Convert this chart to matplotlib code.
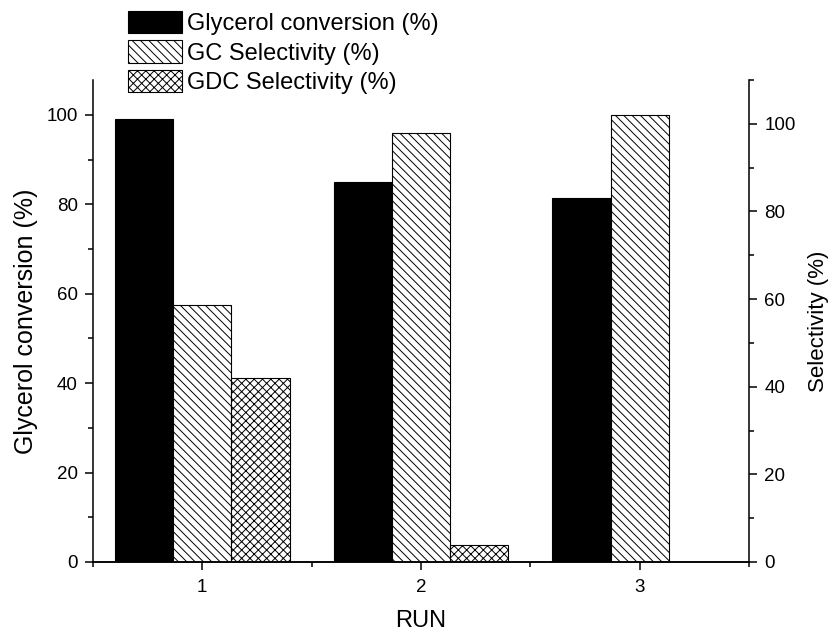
import numpy as np
import matplotlib
matplotlib.use("Agg")
import matplotlib.pyplot as plt
from matplotlib.ticker import MultipleLocator

plt.rcParams['font.family'] = ['Liberation Sans', 'DejaVu Sans']
plt.rcParams['hatch.linewidth'] = 0.7

runs = [1, 2, 3]
run_labels = ["1", "2", "3"]
glycerol_conversion = [99.0, 84.9, 81.4]
gc_selectivity = [57.5, 96.0, 100.0]
gdc_selectivity = [41.1, 3.8, 0.0]

bar_width = 0.266

fig = plt.figure(figsize=(8.33, 6.33), dpi=100)
ax = fig.add_axes([0.1116, 0.1122, 0.7876, 0.7614])
ax2 = ax.twinx()

x = np.array(runs, dtype=float)
b1 = ax.bar(x - bar_width, glycerol_conversion, bar_width, color="black",
            edgecolor="black", linewidth=0.8, label="Glycerol conversion (%)")
b2 = ax.bar(x, gc_selectivity, bar_width, color="white", edgecolor="black",
            hatch="\\\\\\\\", linewidth=0.8, label="GC Selectivity (%)")
b3 = ax.bar(x + bar_width, gdc_selectivity, bar_width, color="white", edgecolor="black",
            hatch="xxxx", linewidth=0.8, label="GDC Selectivity (%)")

ax.set_xlim(0.5, 3.5)
ax.set_ylim(0, 107.8)
ax2.set_ylim(0, 110)

ax.set_xticks(runs)
ax.set_xticklabels(run_labels)
ax.xaxis.set_minor_locator(MultipleLocator(0.5))
ax.yaxis.set_major_locator(MultipleLocator(20))
ax.yaxis.set_minor_locator(MultipleLocator(10))
ax2.yaxis.set_major_locator(MultipleLocator(20))
ax2.yaxis.set_minor_locator(MultipleLocator(10))

for a in (ax, ax2):
    a.spines['top'].set_visible(False)
    for s in a.spines.values():
        s.set_linewidth(1.1)
    a.tick_params(which='major', direction='out', length=6, width=1.1, labelsize=13.5, pad=5)
    a.tick_params(which='minor', direction='out', length=3.5, width=1.1)
ax.tick_params(axis='x', which='major', pad=6)
ax2.spines['left'].set_visible(False)
ax.spines['right'].set_visible(False)

ax.set_xlabel("RUN", fontsize=17, labelpad=10)
ax.set_ylabel("Glycerol conversion (%)", fontsize=18, labelpad=6)
ax2.set_ylabel("Selectivity (%)", fontsize=16, labelpad=9)

fig.legend(handles=[b1, b2, b3], loc="upper left", bbox_to_anchor=(0.1537, 0.9826),
           frameon=False, fontsize=17, handlelength=2.29, handleheight=1.07,
           labelspacing=0.22, handletextpad=0.21, borderpad=0, borderaxespad=0)

plt.savefig("out.png", dpi=100)
